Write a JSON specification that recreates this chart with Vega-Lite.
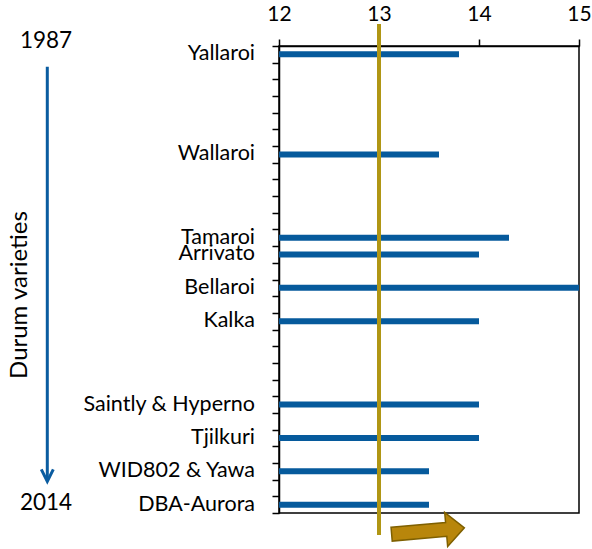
{
  "$schema": "https://vega.github.io/schema/vega-lite/v6.json",
  "width": 300,
  "height": 467,
  "autosize": {"type": "none"},
  "padding": {"left": 279, "top": 46, "right": 13, "bottom": 36},
  "config": {
    "view": {"stroke": "black", "strokeWidth": 1.5},
    "font": "Lato",
    "text": {"font": "Lato", "color": "black"}
  },
  "datasets": {
    "bars": [
      {"year": 1987, "name": "Yallaroi", "value": 13.8},
      {"year": 1993, "name": "Wallaroi", "value": 13.6},
      {"year": 1998, "name": "Tamaroi", "value": 14.3},
      {"year": 1999, "name": "Arrivato", "value": 14.0},
      {"year": 2001, "name": "Bellaroi", "value": 15.0},
      {"year": 2003, "name": "Kalka", "value": 14.0},
      {"year": 2008, "name": "Saintly & Hyperno", "value": 14.0},
      {"year": 2010, "name": "Tjilkuri", "value": 14.0},
      {"year": 2012, "name": "WID802 & Yawa", "value": 13.5},
      {"year": 2014, "name": "DBA-Aurora", "value": 13.5}
    ]
  },
  "layer": [
    {
      "data": {"name": "bars"},
      "layer": [
        {
          "mark": {"type": "bar", "size": 6, "color": "#065A9C"},
          "encoding": {
            "y": {
              "field": "year", "type": "ordinal",
              "scale": {"domain": [1987,1988,1989,1990,1991,1992,1993,1994,1995,1996,1997,1998,1999,2000,2001,2002,2003,2004,2005,2006,2007,2008,2009,2010,2011,2012,2013,2014], "paddingInner": 0, "paddingOuter": 0},
              "axis": {"title": null, "labels": false, "ticks": true, "tickBand": "extent", "tickSize": 7, "tickColor": "black", "tickWidth": 1.5, "domainColor": "black", "domainWidth": 1.5, "grid": false}
            },
            "x": {
              "field": "value", "type": "quantitative",
              "scale": {"domain": [12, 15], "zero": false, "nice": false},
              "axis": {"orient": "top", "values": [12, 13, 14, 15], "format": "d", "title": null, "grid": false, "tickSize": 7, "tickColor": "black", "tickWidth": 1.5, "domainColor": "black", "domainWidth": 1.5, "labelFontSize": 21, "labelColor": "black", "labelFont": "Lato", "labelPadding": 15, "labelFlush": false, "labelOverlap": false}
            },
            "x2": {"datum": 12}
          }
        },
        {
          "mark": {"type": "text", "align": "right", "baseline": "middle", "dx": -24, "fontSize": 21.5, "color": "black"},
          "encoding": {
            "y": {"field": "year", "type": "ordinal"},
            "x": {"datum": 12},
            "text": {"field": "name"}
          }
        }
      ]
    },
    {
      "data": {"values": [{}]},
      "layer": [
        {
          "mark": {"type": "rule", "color": "#B09614", "strokeWidth": 4},
          "encoding": {
            "x": {"datum": 13},
            "y": {"datum": -1.32, "type": "quantitative", "scale": {"domain": [0, 28], "reverse": true, "nice": false, "zero": false}, "axis": null},
            "y2": {"datum": 29.32}
          }
        },
        {
          "mark": {"type": "point", "shape": "M-1,-0.19L0.5,-0.19L0.5,-0.47L1,0L0.5,0.47L0.5,0.19L-1,0.19Z", "size": 5329, "angle": -5, "filled": true, "fill": "#B8860B", "stroke": "#7F6000", "strokeWidth": 1.5, "opacity": 1},
          "encoding": {"x": {"datum": 13.49}, "y": {"datum": 29.08, "type": "quantitative"}}
        },
        {
          "mark": {"type": "rule", "color": "#0A5CA0", "strokeWidth": 3},
          "encoding": {"x": {"datum": 9.683}, "y": {"datum": 1.24, "type": "quantitative"}, "y2": {"datum": 26.05}}
        },
        {
          "mark": {"type": "point", "shape": "M-1,-2L0,0L1,-2", "size": 144, "filled": false, "stroke": "#0A5CA0", "strokeWidth": 3, "opacity": 1},
          "encoding": {"x": {"datum": 9.683}, "y": {"datum": 26.1, "type": "quantitative"}}
        },
        {
          "mark": {"type": "text", "text": "1987", "fontSize": 22.5, "align": "center", "baseline": "middle", "color": "black"},
          "encoding": {"x": {"datum": 9.67}, "y": {"datum": -0.3, "type": "quantitative"}}
        },
        {
          "mark": {"type": "text", "text": "2014", "fontSize": 22.5, "align": "center", "baseline": "middle", "color": "black"},
          "encoding": {"x": {"datum": 9.67}, "y": {"datum": 27.4, "type": "quantitative"}}
        },
        {
          "mark": {"type": "text", "text": "Durum varieties", "fontSize": 24, "angle": 270, "align": "center", "baseline": "middle", "color": "black"},
          "encoding": {"x": {"datum": 9.41}, "y": {"datum": 14.93, "type": "quantitative"}}
        }
      ]
    }
  ],
  "resolve": {"scale": {"y": "independent"}}
}
